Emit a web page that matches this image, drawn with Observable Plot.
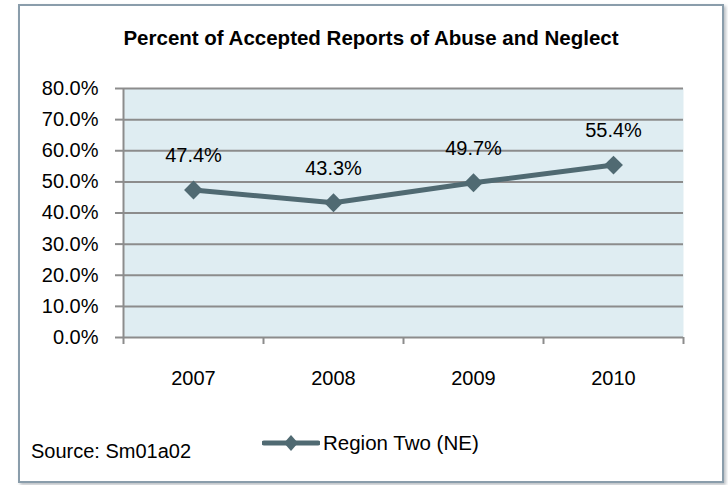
<!DOCTYPE html>
<html>
<head>
<meta charset="utf-8">
<script src="https://cdn.jsdelivr.net/npm/d3@7"></script>
<script src="https://cdn.jsdelivr.net/npm/@observablehq/plot@0.6"></script>
<style>
  html, body { margin: 0; padding: 0; background: #fff; }
  #wrap { position: relative; width: 728px; height: 485px; overflow: hidden;
          font-family: "Liberation Sans", sans-serif; }
  #frame { position: absolute; left: 18px; top: 4px; width: 702px; height: 475px;
           border: 2px solid #8a9dab; box-shadow: 2px 2px 3px rgba(120,130,140,0.5); background: #fff; }
  #title { position: absolute; left: 0; width: 742px; top: 28px; text-align: center;
           font-weight: bold; font-size: 20.5px; line-height: 1; color: #000; }
  #chart { position: absolute; left: 0; top: 70px; }
  #legend { position: absolute; left: 262px; top: 430px; height: 26px; display: flex; align-items: center;
            font-size: 20.5px; color: #000; }
  #source { position: absolute; left: 31px; top: 441px; font-size: 20px; color: #000; line-height: 1; }
</style>
</head>
<body>
<div id="wrap">
  <div id="frame"></div>
  <div id="title"></div>
  <div id="chart"></div>
  <div id="legend"></div>
  <div id="source"></div>
</div>
<script>
const titleText = "Percent of Accepted Reports of Abuse and Neglect";
const sourceText = "Source: Sm01a02";
const seriesName = "Region Two (NE)";
const years = [2007, 2008, 2009, 2010];
const values = [0.474, 0.433, 0.497, 0.554];
const valueLabels = ["47.4%", "43.3%", "49.7%", "55.4%"];
const yTicks = [0, 0.1, 0.2, 0.3, 0.4, 0.5, 0.6, 0.7, 0.8];

const lineColor = "#506a72";
const gridColor = "#8c8c8c";
const font = '"Liberation Sans", sans-serif';

const data = years.map((year, i) => ({year, value: values[i], label: valueLabels[i]}));
const boundaries = [...years.map(y => y - 0.5), years[years.length - 1] + 0.5];

document.getElementById("title").textContent = titleText;
document.getElementById("source").textContent = sourceText;

const chart = Plot.plot({
  width: 728,
  height: 330,
  marginLeft: 123,
  marginRight: 45,
  marginTop: 18,
  marginBottom: 63,
  x: {domain: [boundaries[0], boundaries[boundaries.length - 1]], label: null},
  y: {domain: [0, 0.8], label: null},
  style: {fontFamily: font, fontSize: "20px", color: "#000", background: "transparent", overflow: "visible"},
  marks: [
    Plot.frame({fill: "#dfedf2", stroke: null}),
    Plot.gridY(yTicks, {stroke: gridColor, strokeOpacity: 1, strokeWidth: 2}),
    Plot.ruleX([boundaries[0]], {stroke: gridColor, strokeWidth: 2}),
    Plot.axisY(yTicks, {label: null, tickFormat: ".1%", tickSize: 8, tickPadding: 17, stroke: gridColor, strokeWidth: 2, fontSize: 20, fill: "#000"}),
    Plot.axisX(boundaries, {label: null, tickSize: 7, tickFormat: () => "", stroke: gridColor, strokeWidth: 2}),
    Plot.axisX(years, {label: null, tickSize: 0, tickPadding: 33, tickFormat: d => String(d), fontSize: 20, fill: "#000"}),
    Plot.line(data, {x: "year", y: "value", stroke: lineColor, strokeWidth: 5}),
    Plot.dot(data, {x: "year", y: "value", symbol: "diamond2", r: 8.5, fill: lineColor, stroke: null}),
    Plot.text(data, {x: "year", y: "value", text: "label", dy: -34, fontSize: 20, fill: "#000"})
  ]
});
document.getElementById("chart").appendChild(chart);

const legend = document.getElementById("legend");
legend.innerHTML = `<svg width="58" height="26" style="display:block">
  <line x1="2" y1="13" x2="56" y2="13" stroke="${lineColor}" stroke-width="5" stroke-linecap="round"/>
  <path d="M29,5 L36,13 L29,21 L22,13 Z" fill="${lineColor}"/>
</svg><span style="margin-left:3px">${seriesName}</span>`;
</script>
</body>
</html>
